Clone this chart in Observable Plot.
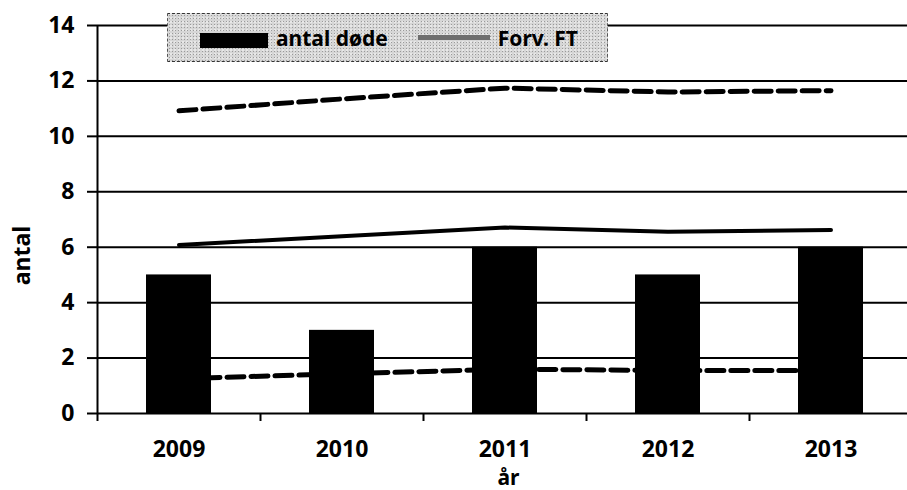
<!DOCTYPE html>
<html>
<head>
<meta charset="utf-8">
<script src="https://cdn.jsdelivr.net/npm/d3@7"></script>
<script src="https://cdn.jsdelivr.net/npm/@observablehq/plot@0.6"></script>
<style>
  html, body { margin: 0; padding: 0; background: #fff; }
  #wrap { position: relative; width: 907px; height: 490px; overflow: hidden; }
  #legend {
    position: absolute; left: 167px; top: 13px; width: 441px; height: 49px;
    background-color: #d6d6d6;
    background-image: radial-gradient(#9a9a9a 0.6px, transparent 0.9px), radial-gradient(#f2f2f2 0.6px, transparent 0.9px);
    background-size: 3px 3px, 4px 4px;
    background-position: 0 0, 1px 2px;
    border-top: 1px dashed #333; border-bottom: 1px dashed #333; border-left: 1px dashed #555; border-right: 1px dashed #555;
    font-family: "Noto Sans", sans-serif; font-size: 21px; font-weight: bold; color: #000;
    display: flex; align-items: center; box-sizing: border-box;
  }
  .sw-bar { display: inline-block; width: 68px; height: 15px; background: #000; margin-left: 32px; margin-top: 5px; }
  .sw-line { display: inline-block; width: 72px; height: 5px; background: #6e6e6e; margin-left: 30px; }
  .lab { margin-left: 8px; }
</style>
</head>
<body>
<div id="wrap">
  <div id="chart"></div>
  <div id="legend"></div>
</div>
<script>
const years = ["2009", "2010", "2011", "2012", "2013"];
const deaths = [5, 3, 6, 5, 6];
const expected = [6.08, 6.4, 6.71, 6.56, 6.62];
const upper = [10.92, 11.35, 11.74, 11.6, 11.65];
const lower = [1.26, 1.43, 1.6, 1.55, 1.55];
const yTicks = [0, 2, 4, 6, 8, 10, 12, 14];
const legendLabels = ["antal døde", "Forv. FT"];
const xLabel = "år";
const yLabel = "antal";

const xRange = [97, 912];
const step = (xRange[1] - xRange[0]) / years.length;
const FS = 23;

const rows = years.map((y, i) => ({year: y, deaths: deaths[i], expected: expected[i], upper: upper[i], lower: lower[i]}));

const plot = Plot.plot({
  width: 907,
  height: 490,
  marginLeft: 97,
  marginRight: 0,
  marginTop: 25,
  marginBottom: 77,
  style: {fontFamily: "Noto Sans, sans-serif", fontSize: FS + "px", fontWeight: "bold", color: "#000", background: "#fff"},
  x: {type: "band", domain: years, range: xRange, paddingInner: 0.6, paddingOuter: 0.3},
  y: {domain: [0, 14], ticks: yTicks},
  marks: [
    Plot.ruleY(yTicks, {stroke: "#000", strokeWidth: 2}),
    Plot.barY(rows, {x: "year", y: "deaths", fill: "#000"}),
    Plot.line(rows, {x: "year", y: "expected", stroke: "#000", strokeWidth: 4}),
    Plot.line(rows, {x: "year", y: "upper", stroke: "#000", strokeWidth: 5, strokeDasharray: "17,7"}),
    Plot.line(rows, {x: "year", y: "lower", stroke: "#000", strokeWidth: 5, strokeDasharray: "17,7"}),
    Plot.ruleX([years[0]], {x: d => d, y1: 0, y2: 14, dx: -step / 2, stroke: "#000", strokeWidth: 2}),
    Plot.axisY({ticks: yTicks, tickSize: 10, tickPadding: 13, strokeWidth: 2, label: null, fontSize: FS, fontWeight: "bold"}),
    Plot.axisX({tickSize: 8, tickPadding: 0, text: null, dx: -step / 2, strokeWidth: 2, label: null}),
    Plot.axisX({tickSize: 0, tickPadding: 27, label: null, fontSize: FS, fontWeight: "bold"}),
    Plot.text([xLabel], {frameAnchor: "bottom", lineAnchor: "middle", dy: 65, dx: 6, fontSize: 21, fontWeight: "bold"}),
    Plot.text([yLabel], {frameAnchor: "left", textAnchor: "middle", rotate: -90, dx: -75, dy: 36, fontSize: FS, fontWeight: "bold"})
  ]
});
document.getElementById("chart").appendChild(plot);

const lg = document.getElementById("legend");
lg.innerHTML = `<span class="sw-bar"></span><span class="lab">${legendLabels[0]}</span><span class="sw-line"></span><span class="lab">${legendLabels[1]}</span>`;
</script>
</body>
</html>
